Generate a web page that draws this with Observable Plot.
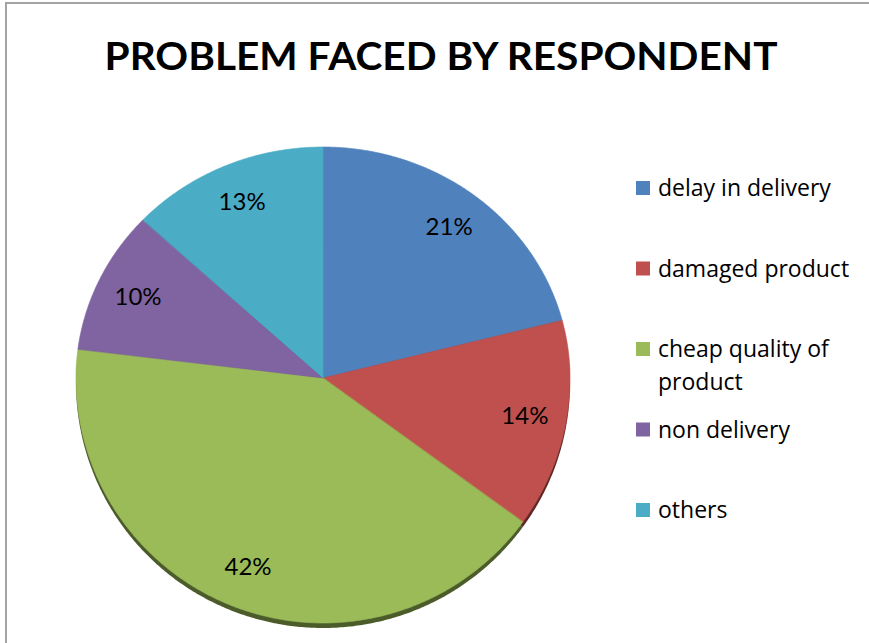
<!DOCTYPE html>
<html><head><meta charset="utf-8">
<script src="https://cdn.jsdelivr.net/npm/d3@7"></script>
<script src="https://cdn.jsdelivr.net/npm/@observablehq/plot@0.6"></script>
<style>
html,body{margin:0;padding:0;background:#fff;}
#chart{position:relative;width:869px;height:643px;overflow:hidden;background:#fff;font-family:Lato,"Open Sans",sans-serif;}
#chart svg{position:absolute;left:0;top:0;}
.bl{position:absolute;left:5px;top:2px;width:2px;height:700px;background:#a3a3a3;}
.bt{position:absolute;left:5px;top:2px;width:900px;height:2px;background:#a3a3a3;}
</style></head><body><div id="chart"><div class="bl"></div><div class="bt"></div></div>
<script>
const categories = ["delay in delivery", "damaged product", "cheap quality of product", "non delivery", "others"];
const values = [21, 14, 42, 10, 13];
const valueLabels = ["21%", "14%", "42%", "10%", "13%"];
const legendLines = [["delay in delivery"], ["damaged product"], ["cheap quality of", "product"], ["non delivery"], ["others"]];
const colors = ["#4F81BD", "#C0504D", "#9BBB59", "#8064A2", "#4BACC6"];
const title = "PROBLEM FACED BY RESPONDENT";

const data = categories.map((c, i) => ({category: c, value: values[i], label: valueLabels[i]}));
const arcs = d3.pie().sort(null).value(d => d.value)(data);

// slight perspective: the far (upper) half of the disc is a little shorter
const topSquash = 231 / 245;
const py = t => { const c = Math.cos(t); return c > 0 ? c * topSquash : c; };

// slice outlines in unit space (angle clockwise from 12 o'clock); area baseline is the pie centre
const slices = [];
arcs.forEach(a => {
  const c = a.data.category;
  const n = Math.max(2, Math.ceil((a.endAngle - a.startAngle) / (Math.PI / 360)));
  for (let k = 0; k <= n; k++) {
    const t = a.startAngle + (a.endAngle - a.startAngle) * k / n;
    slices.push({category: c, x: Math.sin(t), y: py(t), cx: 0, cy: 0});
  }
});
const labelPts = arcs.map(a => {
  const m = (a.startAngle + a.endAngle) / 2;
  return {label: a.data.label, x: 0.83 * Math.sin(m), y: 0.83 * py(m)};
});

const shadowMarks = arcs.map((a, i) => Plot.area(slices.filter(d => d.category === a.data.category), {
  x1: "x", y1: "y", x2: "cx", y2: "cy", fill: d3.color(colors[i]).darker(2).formatHex(), dy: 5
}));

const svg = Plot.plot({
  width: 869, height: 643, margin: 0,
  x: {domain: [-1, 1], range: [76, 570], axis: null},
  y: {domain: [-1, 1], range: [623, 133], axis: null},
  color: {domain: categories, range: colors},
  style: {background: "transparent", fontFamily: "Lato, 'Open Sans', sans-serif"},
  marks: [
    ...shadowMarks,
    Plot.area(slices, {x1: "x", y1: "y", x2: "cx", y2: "cy", z: "category", fill: "category", stroke: "category", strokeWidth: 0.6}),
    Plot.text(labelPts, {x: "x", y: "y", text: "label", fontSize: 24, fill: "#000"})
  ]
});
const root = document.getElementById("chart");
root.appendChild(svg);

const s = d3.select(svg);
const defs = s.insert("defs", ":first-child");
defs.append("filter").attr("id", "blur").attr("x", "-10%").attr("y", "-10%").attr("width", "120%").attr("height", "120%")
  .append("feGaussianBlur").attr("stdDeviation", 0.6);
s.selectAll('g[aria-label="area"]').filter((d, i) => i < shadowMarks.length).attr("filter", "url(#blur)");

// title
s.append("text").attr("x", 441).attr("y", 70).attr("text-anchor", "middle")
  .attr("font-family", "Lato, 'Open Sans', sans-serif").attr("font-weight", "bold").attr("font-size", 39)
  .attr("textLength", 673).attr("lengthAdjust", "spacingAndGlyphs").attr("fill", "#000").text(title);

// legend
const color = svg.scale("color");
const lg = s.append("g").attr("font-family", "'Open Sans', Lato, sans-serif").attr("font-size", 23).attr("fill", "#000").attr("text-anchor", "start");
categories.forEach((c, i) => {
  const base = 196 + 80.5 * i;
  lg.append("rect").attr("x", 636).attr("y", base - 15).attr("width", 14).attr("height", 14).attr("fill", color.apply(c));
  legendLines[i].forEach((ln, j) => {
    lg.append("text").attr("x", 658).attr("y", base + 33 * j).text(ln);
  });
});
</script></body></html>
